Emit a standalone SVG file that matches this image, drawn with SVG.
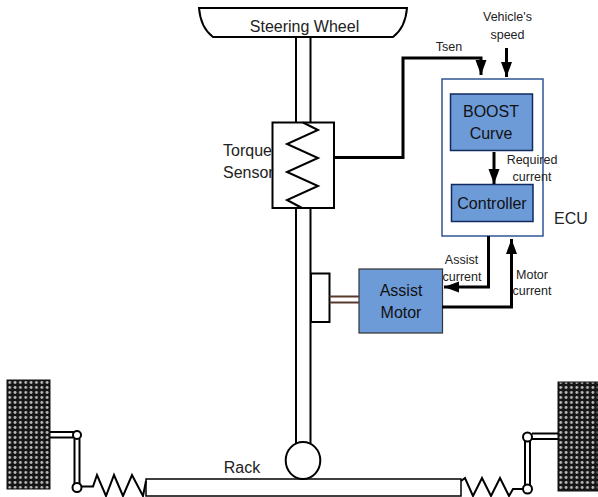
<svg xmlns="http://www.w3.org/2000/svg" width="598" height="497" viewBox="0 0 598 497">
<style>
text{font-family:"Liberation Sans",Arial,sans-serif;fill:#222;text-anchor:middle}
.l{font-size:16px}.s{font-size:12.500px}.m{font-size:16px;fill:#111}
.k{fill:none;stroke:#000;stroke-width:2}
.h{fill:none;stroke:#000;stroke-width:3}
.w{fill:#fff;stroke:#000;stroke-width:2}
.b{fill:#6d9bd8;stroke:#10295e;stroke-width:1.5}
</style>
<defs>
<pattern id="tread" width="5.35" height="5" patternUnits="userSpaceOnUse" x="7" y="380">
<rect width="5.35" height="5" fill="#161616"/><circle cx="2.7" cy="2.5" r="1.4" fill="#bdbdbd"/>
</pattern>
<marker id="a" markerUnits="userSpaceOnUse" markerWidth="16" markerHeight="12" refX="15" refY="6" orient="auto"><path d="M0 0.500L15 6L0 11.500Z" fill="#000"/></marker>
</defs>
<g id="shaft"><path class="k" d="M296 37V122M310.500 37V122M296 208V444M310.500 208V444"/></g>
<g id="steering-wheel"><path class="w" d="M199 8H407C406 20 401 31 393 37H213C205 31 200 20 199 8Z"/><text class="l" x="304.500" y="32">Steering Wheel</text></g>
<g id="torque-sensor"><rect class="w" x="272.500" y="122.500" width="61.500" height="85.500"/><path class="k" d="M303 122.500L318 130L287 144L318 158L287 172L318 186L287 200L302 208"/></g>
<text class="l" x="223" y="156" style="text-anchor:start">Torque</text>
<text class="l" x="223" y="178" style="text-anchor:start">Sensor</text>
<text class="s" x="449" y="51">Tsen</text>
<text class="s" x="507.500" y="21">Vehicle's</text>
<text class="s" x="507.500" y="39">speed</text>
<g id="ecu"><rect x="442" y="79" width="101" height="157" fill="#fff" stroke="#2f5597" stroke-width="1.500"/></g>
<g id="boost-curve"><rect class="b" x="450.500" y="94" width="82" height="56.500"/><text class="m" x="491" y="117">BOOST</text><text class="m" x="491" y="139">Curve</text></g>
<g id="controller"><rect class="b" x="451.500" y="184.500" width="81.500" height="37"/><text class="m" x="492" y="209">Controller</text></g>
<text class="s" x="532" y="164">Required</text>
<text class="s" x="532" y="181">current</text>
<text class="l" x="571" y="224">ECU</text>
<text class="s" x="461.500" y="264">Assist</text>
<text class="s" x="462" y="281">current</text>
<text class="s" x="532" y="279">Motor</text>
<text class="s" x="532" y="295">current</text>
<g id="assist-motor"><rect x="359" y="269" width="83.500" height="64" fill="#6d9bd8" stroke="#333" stroke-width="1.200"/><text class="m" x="401" y="296">Assist</text><text class="m" x="401" y="318">Motor</text></g>
<g id="bracket"><rect class="w" x="311" y="273.500" width="18.500" height="48.500"/></g>
<g id="rack"><rect x="146" y="479" width="315" height="17" fill="#fff" stroke="#000" stroke-width="1.500"/><text class="l" x="242" y="473">Rack</text></g>
<g id="pinion"><ellipse class="w" cx="303" cy="460.500" rx="17.300" ry="18.500"/></g>
<g id="left-wheel"><rect x="7" y="380" width="43" height="109" fill="url(#tread)" stroke="#111"/>
<path d="M7 405.500H50" stroke="#111" stroke-dasharray="3 2"/>
<path d="M50 432H74M50 437.500H74M74.500 439V484M79.500 439V484" class="k"/>
<circle class="w" cx="77" cy="435" r="4"/><circle class="w" cx="77" cy="487.500" r="4.500"/>
<path class="k" d="M81.500 486.500H93L97 475L106 496L114 475L123 496L132 475L143 496L146 481"/></g>
<g id="right-wheel"><rect x="558" y="382" width="40" height="109" fill="url(#tread)" stroke="#111"/>
<path d="M558 405.500H598" stroke="#111" stroke-dasharray="3 2"/>
<path d="M532 433.500H558M532 439H558M525 441V485M530 441V485" class="k"/>
<circle class="w" cx="527.500" cy="437" r="4.500"/><circle class="w" cx="527.500" cy="489" r="4.500"/>
<path class="k" d="M461 481L465 478L473 496L482 478L491 496L500 478L509 496L513 489H523"/></g>
<g id="connectors">
<path class="h" d="M334 157.500H403V58H481V75" marker-end="url(#a)"/>
<path class="h" d="M506.500 48V77" marker-end="url(#a)"/>
<path class="h" d="M494 152V184" marker-end="url(#a)"/>
<path class="h" d="M488.500 236V287H444" marker-end="url(#a)"/>
<path class="h" d="M442 307H511.500V239" marker-end="url(#a)"/>
<path d="M329.500 296.500H359M329.500 302.500H359" fill="none" stroke="#5b3a2e" stroke-width="2"/>
</g>
</svg>
